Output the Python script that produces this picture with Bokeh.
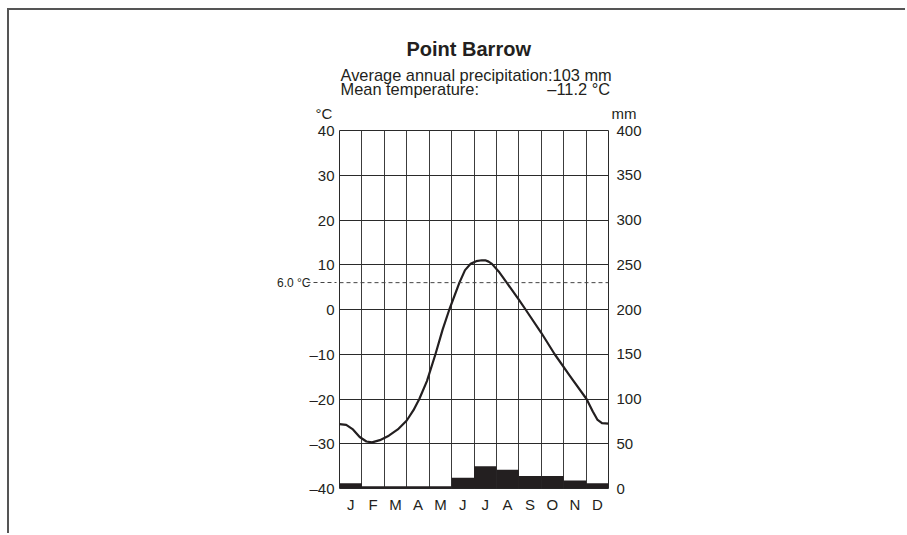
from bokeh.plotting import figure
from bokeh.models import Range1d, LinearAxis, FixedTicker, Span, Title
from bokeh.embed import file_html
from bokeh.resources import INLINE

# ---------------- data ----------------
months = ["J", "F", "M", "A", "M", "J", "J", "A", "S", "O", "N", "D"]
precip_mm = [6, 2.5, 2.5, 2.5, 2.5, 12, 25, 21, 14, 14, 9, 6]

# traced temperature curve (position in months from 1 Jan, degC)
curve_month = [0.0, 0.3, 0.6, 0.9, 1.2, 1.45, 1.8, 2.2, 2.6, 3.0, 3.3, 3.56,
               3.9, 4.28, 4.6, 4.9, 5.35, 5.6, 5.85, 6.1, 6.35, 6.5, 6.65, 6.8,
               7.1, 7.46, 8.0, 8.3, 9.0, 9.6, 10.3, 11.02, 11.3, 11.5, 11.71, 12.0]
curve_temp = [-25.6, -25.8, -26.8, -28.5, -29.5, -29.7, -29.2, -28.2, -26.8, -24.8, -22.5, -20.0,
              -16.0, -10.0, -4.5, 0.0, 6.0, 8.8, 10.2, 10.8, 11.0, 11.0, 10.7, 10.2,
              8.5, 6.0, 2.2, 0.0, -5.2, -10.0, -15.0, -20.0, -22.8, -24.6, -25.4, -25.5]

temp_ticks = [-40, -30, -20, -10, 0, 10, 20, 30, 40]
precip_ticks = [0, 50, 100, 150, 200, 250, 300, 350, 400]
threshold_temp = 6.0

title_text = "Point Barrow"
precip_label = "Average annual precipitation:"
precip_total = "103 mm"
temp_label = "Mean temperature:"
mean_temp = "\u201311.2 \u00b0C"
threshold_text = "6.0 \u00b0C"
left_unit = "\u00b0C"
right_unit = "mm"

FONT = "Liberation Sans"
INK = "#231f20"
GRID = "#2a2a2a"
VGRID = "#3c3c3c"
NB = "\u00a0"

# ---------------- figure ----------------
p = figure(width=898, height=525, output_backend="svg", toolbar_location=None,
           x_range=Range1d(0, 12), y_range=Range1d(-40, 40),
           x_axis_location=None, y_axis_location=None,
           min_border_left=330, min_border_right=299,
           min_border_top=120, min_border_bottom=47)
p.styles = {"border-top": "2px solid #555555", "border-left": "2px solid #555555",
            "margin-left": "7px", "margin-top": "8px"}
p.extra_y_ranges = {"mm": Range1d(0, 400)}
p.background_fill_color = "white"
p.border_fill_color = "white"
p.outline_line_color = GRID
p.outline_line_width = 1
p.outline_line_alpha = 1

# axes
def style_axis(ax, standoff, size="15px"):
    ax.axis_line_color = None
    ax.major_tick_line_color = None
    ax.minor_tick_line_color = None
    ax.major_tick_in = 0
    ax.major_tick_out = 0
    ax.minor_tick_in = 0
    ax.minor_tick_out = 0
    ax.major_label_standoff = standoff
    ax.major_label_text_font = FONT
    ax.major_label_text_font_size = size
    ax.major_label_text_color = INK

left = LinearAxis(ticker=FixedTicker(ticks=temp_ticks))
left.major_label_overrides = {t: (("\u2013" + str(abs(t))) if t < 0 else str(t)) for t in temp_ticks}
style_axis(left, 5)
p.add_layout(left, "left")

# second left axis: the threshold label with a dashed lead-in
thr_axis = LinearAxis(ticker=FixedTicker(ticks=[threshold_temp]))
thr_axis.major_label_overrides = {threshold_temp: threshold_text}
style_axis(thr_axis, -4, "12px")
thr_axis.major_tick_line_color = "#444444"
thr_axis.major_tick_line_dash = "4 3"
thr_axis.major_tick_line_width = 1
thr_axis.major_tick_in = 30
p.add_layout(thr_axis, "left")

right = LinearAxis(y_range_name="mm", ticker=FixedTicker(ticks=precip_ticks))
right.major_label_overrides = {t: str(t) for t in precip_ticks}
style_axis(right, 8)
p.add_layout(right, "right")

month_pos = [i + 0.5 for i in range(len(months))]
bottom = LinearAxis(ticker=FixedTicker(ticks=month_pos))
bottom.major_label_overrides = {m: lab for m, lab in zip(month_pos, months)}
style_axis(bottom, 7)
p.add_layout(bottom, "below")

# grids
p.xgrid.ticker = FixedTicker(ticks=list(range(0, 13)))
p.ygrid.ticker = FixedTicker(ticks=temp_ticks)
p.xgrid.grid_line_color = VGRID
p.ygrid.grid_line_color = GRID
for g in (p.xgrid, p.ygrid):
    g.grid_line_width = 1
    g.grid_line_alpha = 1

# precipitation bars
p.vbar(x=month_pos, top=precip_mm, bottom=0, width=1.0, y_range_name="mm",
       fill_color=INK, line_color=None)

# temperature curve
p.line(curve_month, curve_temp, line_width=2.2, line_color=INK, line_join="round")

# threshold dashed line inside the frame
p.add_layout(Span(location=threshold_temp, dimension="width", line_dash="4 3",
                  line_width=1, line_color="#444444"))

# header rows (stacked upward from the frame)
def row(text, size, offset, standoff, bold=False):
    t = Title(text=text, align="left", offset=offset, standoff=standoff,
              text_font=FONT, text_font_size=size, text_color=INK,
              text_font_style="bold" if bold else "normal", vertical_align="bottom")
    p.add_layout(t, "above")

row(left_unit + NB * 67 + right_unit, "15px", -24, 17)
row(temp_label + NB * 15 + mean_temp, "16.4px", 1, -6)
row(precip_label + precip_total, "16.4px", 1, -7)
row(title_text, "20px", 67, 16, bold=True)

open("out.html", "w").write(file_html(p, INLINE))
